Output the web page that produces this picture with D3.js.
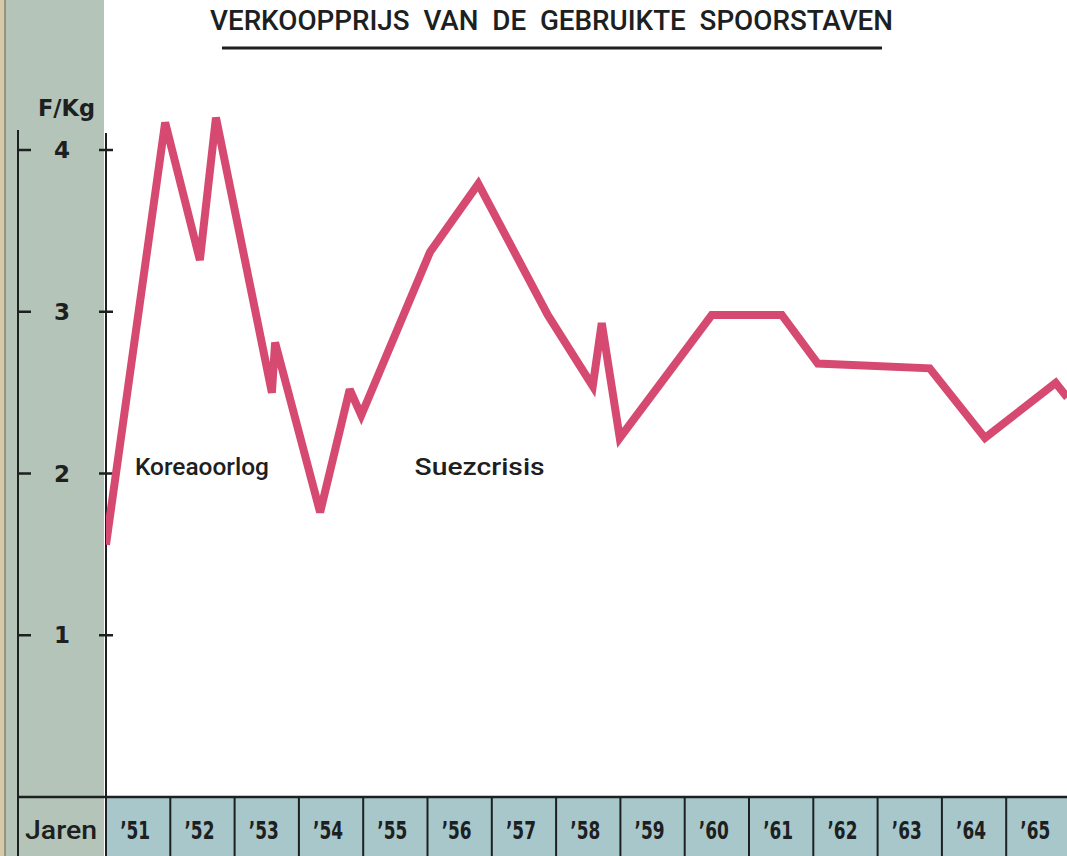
<!DOCTYPE html>
<html>
<head>
<meta charset="utf-8">
<title>Verkoopprijs van de gebruikte spoorstaven</title>
<script src="https://d3js.org/d3.v7.min.js"></script>
<style>
  body { margin: 0; background: #fff; }
  svg { display: block; }
  text { font-family: "DejaVu Sans", sans-serif; fill: #1c2020; }
  .lbl { font-family: Roboto, "DejaVu Sans", sans-serif; font-weight: 500; }
</style>
</head>
<body>
<svg id="chart" width="1067" height="856"></svg>
<script>
// data
var years = [1951, 1952, 1953, 1954, 1955, 1956, 1957, 1958, 1959, 1960, 1961, 1962, 1963, 1964, 1965];
var yearLabels = ["’51", "’52", "’53", "’54", "’55", "’56", "’57", "’58", "’59", "’60", "’61", "’62", "’63", "’64", "’65"];
var priceTicks = [1, 2, 3, 4];

// price line (fractional year, F/Kg)
var lineYears  = [1951.00, 1951.92, 1952.46, 1952.71, 1953.58, 1953.63, 1954.33, 1954.79, 1954.97, 1956.04, 1956.79,
                  1957.87, 1958.57, 1958.71, 1958.99, 1960.42, 1961.51, 1962.07, 1963.81, 1964.67, 1965.77, 1965.95];
var linePrices = [1.56, 4.17, 3.32, 4.20, 2.50, 2.81, 1.76, 2.52, 2.36, 3.37, 3.79,
                  2.98, 2.54, 2.93, 2.22, 2.98, 2.98, 2.68, 2.65, 2.22, 2.56, 2.47];

var notes = [
  {label: "Koreaoorlog", year: 1951.45, price: 2.0, width: 134},
  {label: "Suezcrisis",  year: 1955.8,  price: 2.0, width: 130}
];

var svg = d3.select("#chart");
var W = 1067, H = 856;

var x = d3.scaleLinear().domain([1951, 1966]).range([106, 106 + 15 * 64.3]);
var y = d3.scaleLinear().domain([0, 4]).range([797, 150]);

// left band
svg.append("rect").attr("x", 0).attr("y", 0).attr("width", 5).attr("height", H).attr("fill", "#d6caa8");
svg.append("rect").attr("x", 5).attr("y", 0).attr("width", 99).attr("height", H).attr("fill", "#b5c4b9");
svg.append("line").attr("x1", 5).attr("x2", 5).attr("y1", 0).attr("y2", H)
  .attr("stroke", "#5a6258").attr("stroke-width", 1);

// axis lines
svg.append("line").attr("x1", 18).attr("x2", 18).attr("y1", 130).attr("y2", H)
  .attr("stroke", "#1c2020").attr("stroke-width", 2);
svg.append("line").attr("x1", 106).attr("x2", 106).attr("y1", 133).attr("y2", H)
  .attr("stroke", "#1c2020").attr("stroke-width", 2);

// bottom year row
var row = svg.append("g");
row.append("rect").attr("x", 106).attr("y", 797).attr("width", W - 106).attr("height", H - 797).attr("fill", "#a8c7cb");
row.selectAll("line.cell").data(years.concat([1966])).enter().append("line")
  .attr("class", "cell")
  .attr("x1", function(d) { return x(d); }).attr("x2", function(d) { return x(d); })
  .attr("y1", 797).attr("y2", H)
  .attr("stroke", "#1c2020").attr("stroke-width", 2);
row.append("line").attr("x1", 18).attr("x2", W).attr("y1", 797).attr("y2", 797)
  .attr("stroke", "#1c2020").attr("stroke-width", 2.5);
row.selectAll("text.yr").data(years).enter().append("text")
  .attr("class", "yr")
  .attr("x", function(d) { return x(d + 0.5) - 3; })
  .attr("y", 839)
  .attr("text-anchor", "middle")
  .attr("font-size", 25).attr("font-weight", "bold")
  .attr("textLength", 30).attr("lengthAdjust", "spacingAndGlyphs")
  .text(function(d, i) { return yearLabels[i]; });
row.append("text").attr("class", "lbl").attr("x", 25).attr("y", 839)
  .attr("font-size", 25).attr("textLength", 72).attr("lengthAdjust", "spacingAndGlyphs").text("Jaren");

// price ticks
var tk = svg.append("g").selectAll("g").data(priceTicks).enter().append("g")
  .attr("transform", function(d) { return "translate(0," + y(d) + ")"; });
tk.append("line").attr("x1", 18).attr("x2", 31).attr("stroke", "#1c2020").attr("stroke-width", 2.5);
tk.append("line").attr("x1", 99).attr("x2", 113).attr("stroke", "#1c2020").attr("stroke-width", 2.5);
tk.append("text").attr("x", 62).attr("y", 8).attr("text-anchor", "middle")
  .attr("font-size", 23).attr("font-weight", "bold").text(function(d) { return d; });

svg.append("text").attr("x", 38).attr("y", 116)
  .attr("font-size", 23).attr("font-weight", "bold")
  .attr("textLength", 57).attr("lengthAdjust", "spacingAndGlyphs").text("F/Kg");

// title
svg.append("text").attr("class", "lbl").attr("x", 210).attr("y", 30)
  .attr("font-size", 27).attr("textLength", 683).attr("lengthAdjust", "spacingAndGlyphs")
  .attr("xml:space", "preserve")
  .text("VERKOOPPRIJS  VAN  DE  GEBRUIKTE  SPOORSTAVEN");
svg.append("line").attr("x1", 222).attr("x2", 882).attr("y1", 48).attr("y2", 48)
  .attr("stroke", "#1c2020").attr("stroke-width", 3);

// notes
svg.selectAll("text.note").data(notes).enter().append("text")
  .attr("class", "note lbl")
  .attr("x", function(d) { return x(d.year); })
  .attr("y", function(d) { return y(d.price) + 1; })
  .attr("font-size", 24)
  .attr("textLength", function(d) { return d.width; })
  .attr("lengthAdjust", "spacingAndGlyphs")
  .text(function(d) { return d.label; });

// price line
svg.append("clipPath").attr("id", "plot")
  .append("rect").attr("x", 106).attr("y", 60).attr("width", W - 106).attr("height", 737);

var pts = lineYears.map(function(d, i) { return [d, linePrices[i]]; });
var line = d3.line().x(function(d) { return x(d[0]); }).y(function(d) { return y(d[1]); });
svg.append("path")
  .datum(pts)
  .attr("clip-path", "url(#plot)")
  .attr("d", line)
  .attr("fill", "none")
  .attr("stroke", "#d64a72")
  .attr("stroke-width", 8)
  .attr("stroke-linejoin", "miter")
  .attr("stroke-miterlimit", 3);
</script>
</body>
</html>
